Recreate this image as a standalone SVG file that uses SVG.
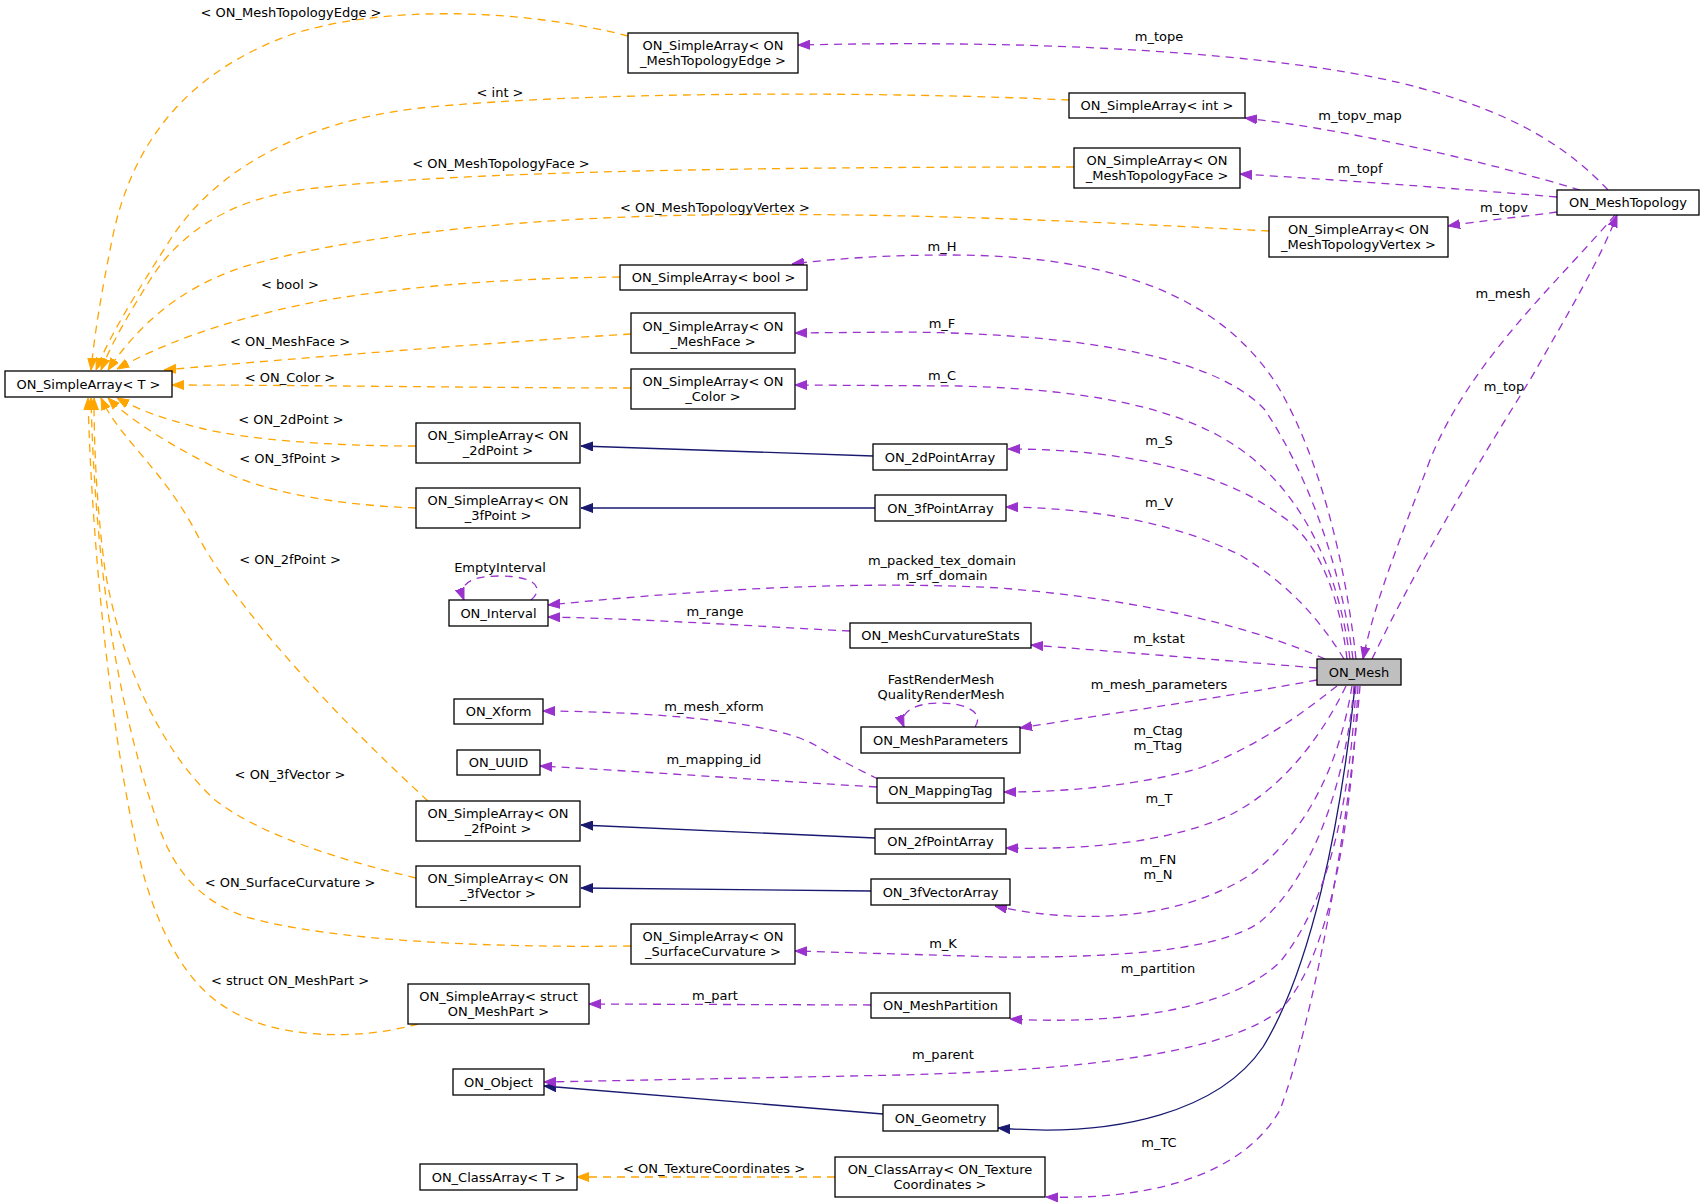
<svg xmlns="http://www.w3.org/2000/svg" width="1705" height="1204" viewBox="0 0 1705 1204">
<style>
.node rect{fill:#ffffff;stroke:#000000;stroke-width:1.3}
.main rect{fill:#bfbfbf}
text{font-family:"DejaVu Sans","Liberation Sans",sans-serif;font-size:13px;text-anchor:middle;fill:#000000}
.ep{fill:none;stroke:#9a32cd;stroke-width:1.3;stroke-dasharray:8,6}
.eo{fill:none;stroke:#ffa500;stroke-width:1.3;stroke-dasharray:8,6}
.eb{fill:none;stroke:#191970;stroke-width:1.3}
</style>
<defs>
<marker id="ap" markerUnits="userSpaceOnUse" markerWidth="12" markerHeight="10" refX="12" refY="5" orient="auto" viewBox="0 0 12 10"><path d="M0,0.5 L12,5 L0,9.5 z" fill="#9a32cd" stroke="#9a32cd" stroke-width="1"/></marker>
<marker id="ao" markerUnits="userSpaceOnUse" markerWidth="12" markerHeight="10" refX="12" refY="5" orient="auto" viewBox="0 0 12 10"><path d="M0,0.5 L12,5 L0,9.5 z" fill="#ffa500" stroke="#ffa500" stroke-width="1"/></marker>
<marker id="ab" markerUnits="userSpaceOnUse" markerWidth="12" markerHeight="10" refX="12" refY="5" orient="auto" viewBox="0 0 12 10"><path d="M0,0.5 L12,5 L0,9.5 z" fill="#191970" stroke="#191970" stroke-width="1"/></marker>
</defs>
<rect x="0" y="0" width="1705" height="1204" fill="#ffffff"/>
<g id="connectors">
<g marker-end="url(#ao)">
<path class="eo" d="M628,36 C520,8 380,5 290,35 C180,75 130,150 112,240 C102,290 95,330 91,370"/>
<path class="eo" d="M1069,100 C900,92 600,90 420,108 C300,122 215,170 170,240 C135,295 110,335 96,370"/>
<path class="eo" d="M1074,167 C800,167 450,170 300,190 C220,202 175,240 150,280 C130,312 113,340 101,370"/>
<path class="eo" d="M1269,231 C1100,222 900,212 700,215 C500,218 330,240 240,268 C175,290 135,330 108,370"/>
<path class="eo" d="M620,277 C520,278 400,285 300,305 C220,322 160,345 117,369"/>
<path class="eo" d="M631,334 C500,342 300,358 164,370"/>
<path class="eo" d="M631,388 C500,388 300,385 172,385"/>
<path class="eo" d="M416,446 C330,446 250,440 200,428 C160,418 135,408 117,398"/>
<path class="eo" d="M416,508 C330,505 260,490 220,470 C170,445 130,420 108,398"/>
<path class="eo" d="M428,801 C340,720 245,620 200,540 C165,470 120,440 101,398"/>
<path class="eo" d="M416,878 C340,860 260,835 215,800 C160,750 120,660 105,570 C97,510 94,450 94,398"/>
<path class="eo" d="M631,946 C480,948 330,940 250,918 C200,903 175,870 160,830 C115,700 95,560 91,398"/>
<path class="eo" d="M418,1024 C360,1040 280,1040 230,1010 C185,985 160,930 145,880 C115,770 92,560 88,398"/>
<path class="eo" d="M835,1177 L577,1177"/>
</g>
<g marker-end="url(#ab)">
<path class="eb" d="M873,456 L581,446"/>
<path class="eb" d="M875,508 L581,508"/>
<path class="eb" d="M875,838 L581,825"/>
<path class="eb" d="M871,891 L581,888"/>
<path class="eb" d="M883,1114 L544,1086"/>
<path class="eb" d="M1355,686 C1340,830 1310,970 1263,1047 C1220,1110 1120,1138 998,1128"/>
</g>
<g marker-end="url(#ap)">
<path class="ep" d="M1608,190 C1570,150 1520,115 1420,88 C1320,60 1100,38 798,45"/>
<path class="ep" d="M1580,190 C1480,160 1350,130 1245,118"/>
<path class="ep" d="M1557,197 C1450,188 1340,180 1240,174"/>
<path class="ep" d="M1557,212 C1520,217 1480,221 1448,226"/>
<path class="ep" d="M1615,215 C1560,280 1470,360 1430,460 C1400,540 1375,600 1363,659"/>
<path class="ep" d="M1372,659 C1420,560 1480,460 1530,380 C1570,310 1600,260 1617,215"/>
<path class="ep" d="M1356,659 C1345,560 1320,460 1280,390 C1220,290 1100,255 950,255 C890,255 840,258 792,264"/>
<path class="ep" d="M1353,659 C1340,560 1305,470 1265,410 C1210,350 1050,333 900,332 L795,333"/>
<path class="ep" d="M1350,659 C1340,580 1310,510 1260,465 C1200,410 1100,390 960,386 L795,385"/>
<path class="ep" d="M1347,659 C1340,600 1320,540 1280,515 C1220,470 1120,449 1008,449"/>
<path class="ep" d="M1344,659 C1320,620 1290,585 1240,555 C1180,525 1100,508 1006,507"/>
<path class="ep" d="M1325,659 C1260,630 1150,600 1000,588 C850,580 700,590 548,605"/>
<path class="ep" d="M531,600 C545,588 535,576 500,576 C470,576 458,584 464,600"/>
<path class="ep" d="M850,631 C750,626 650,619 548,617"/>
<path class="ep" d="M1317,668 C1220,660 1120,652 1031,645"/>
<path class="ep" d="M1317,680 C1220,698 1120,712 1020,728"/>
<path class="ep" d="M975,727 C985,712 965,703 940,703 C915,703 898,712 904,727"/>
<path class="ep" d="M878,779 C860,770 835,758 815,745 C780,725 680,712 543,711"/>
<path class="ep" d="M877,787 C760,780 650,772 540,766"/>
<path class="ep" d="M1337,686 C1300,715 1260,745 1200,768 C1140,785 1070,792 1004,792"/>
<path class="ep" d="M1346,686 C1320,740 1280,790 1230,815 C1170,842 1090,850 1006,848"/>
<path class="ep" d="M1352,686 C1340,760 1310,830 1250,875 C1180,920 1080,925 995,906"/>
<path class="ep" d="M1354,686 C1345,790 1310,880 1260,922 C1220,950 1120,958 1000,957 L795,951"/>
<path class="ep" d="M1356,686 C1350,800 1330,900 1280,962 C1230,1010 1120,1025 1010,1019"/>
<path class="ep" d="M1358,686 C1352,820 1330,960 1280,1010 C1230,1050 1100,1070 900,1075 C750,1078 650,1080 544,1082"/>
<path class="ep" d="M1360,686 C1348,840 1310,1030 1280,1110 C1240,1180 1140,1200 1046,1197"/>
<path class="ep" d="M871,1005 L589,1004"/>
</g>
<g id="edge-labels">
<text x="291" y="16.5">&lt; ON_MeshTopologyEdge &gt;</text>
<text x="500" y="96.5">&lt; int &gt;</text>
<text x="501" y="167.5">&lt; ON_MeshTopologyFace &gt;</text>
<text x="715" y="211.5">&lt; ON_MeshTopologyVertex &gt;</text>
<text x="290" y="288.5">&lt; bool &gt;</text>
<text x="290" y="345.5">&lt; ON_MeshFace &gt;</text>
<text x="290" y="381.5">&lt; ON_Color &gt;</text>
<text x="291" y="423.5">&lt; ON_2dPoint &gt;</text>
<text x="290" y="462.5">&lt; ON_3fPoint &gt;</text>
<text x="290" y="563.5">&lt; ON_2fPoint &gt;</text>
<text x="290" y="778.5">&lt; ON_3fVector &gt;</text>
<text x="290" y="886.5">&lt; ON_SurfaceCurvature &gt;</text>
<text x="290" y="984.5">&lt; struct ON_MeshPart &gt;</text>
<text x="714" y="1172.5">&lt; ON_TextureCoordinates &gt;</text>
<text x="1159" y="41">m_tope</text>
<text x="1360" y="120">m_topv_map</text>
<text x="1360" y="173">m_topf</text>
<text x="1504" y="212">m_topv</text>
<text x="1503" y="298">m_mesh</text>
<text x="1504" y="391">m_top</text>
<text x="942" y="251">m_H</text>
<text x="942" y="328">m_F</text>
<text x="942" y="380">m_C</text>
<text x="1159" y="445">m_S</text>
<text x="1159" y="507">m_V</text>
<text x="942" y="565">m_packed_tex_domain</text>
<text x="942" y="580">m_srf_domain</text>
<text x="500" y="572">EmptyInterval</text>
<text x="715" y="616">m_range</text>
<text x="1159" y="643">m_kstat</text>
<text x="1159" y="689">m_mesh_parameters</text>
<text x="941" y="683.5">FastRenderMesh</text>
<text x="941" y="698.5">QualityRenderMesh</text>
<text x="714" y="711">m_mesh_xform</text>
<text x="714" y="764">m_mapping_id</text>
<text x="1158" y="735">m_Ctag</text>
<text x="1158" y="750">m_Ttag</text>
<text x="1159" y="803">m_T</text>
<text x="1158" y="864">m_FN</text>
<text x="1158" y="879">m_N</text>
<text x="943" y="948">m_K</text>
<text x="1158" y="973">m_partition</text>
<text x="943" y="1059">m_parent</text>
<text x="1159" y="1147">m_TC</text>
<text x="715" y="1000">m_part</text>
</g>
</g>
<g id="n_T" class="node"><rect x="5" y="371" width="167" height="26"/><text x="88.5" y="388.5">ON_SimpleArray&lt; T &gt;</text></g>
<g id="n_MTEdge" class="node"><rect x="628" y="33" width="170" height="40"/><text x="713" y="50">ON_SimpleArray&lt; ON</text><text x="713" y="65">_MeshTopologyEdge &gt;</text></g>
<g id="n_int" class="node"><rect x="1069" y="93" width="176" height="25"/><text x="1157" y="110">ON_SimpleArray&lt; int &gt;</text></g>
<g id="n_MTFace" class="node"><rect x="1074" y="148" width="166" height="40"/><text x="1157" y="165">ON_SimpleArray&lt; ON</text><text x="1157" y="180">_MeshTopologyFace &gt;</text></g>
<g id="n_MeshTopology" class="node"><rect x="1557" y="190" width="142" height="25"/><text x="1628" y="207">ON_MeshTopology</text></g>
<g id="n_MTVertex" class="node"><rect x="1269" y="217" width="179" height="40"/><text x="1358.5" y="234">ON_SimpleArray&lt; ON</text><text x="1358.5" y="249">_MeshTopologyVertex &gt;</text></g>
<g id="n_bool" class="node"><rect x="620" y="265" width="187" height="25"/><text x="713.5" y="282">ON_SimpleArray&lt; bool &gt;</text></g>
<g id="n_MeshFace" class="node"><rect x="631" y="313" width="164" height="40"/><text x="713" y="330.5">ON_SimpleArray&lt; ON</text><text x="713" y="345.5">_MeshFace &gt;</text></g>
<g id="n_Color" class="node"><rect x="631" y="369" width="164" height="40"/><text x="713" y="386">ON_SimpleArray&lt; ON</text><text x="713" y="401">_Color &gt;</text></g>
<g id="n_2dPoint" class="node"><rect x="416" y="423" width="164" height="40"/><text x="498" y="440">ON_SimpleArray&lt; ON</text><text x="498" y="455">_2dPoint &gt;</text></g>
<g id="n_3fPoint" class="node"><rect x="416" y="488" width="164" height="40"/><text x="498" y="505">ON_SimpleArray&lt; ON</text><text x="498" y="520">_3fPoint &gt;</text></g>
<g id="n_2dPointArray" class="node"><rect x="873" y="444" width="134" height="26"/><text x="940" y="461.5">ON_2dPointArray</text></g>
<g id="n_3fPointArray" class="node"><rect x="875" y="495" width="131" height="26"/><text x="940.5" y="512.5">ON_3fPointArray</text></g>
<g id="n_Interval" class="node"><rect x="449" y="600" width="99" height="26"/><text x="498.5" y="617.5">ON_Interval</text></g>
<g id="n_MeshCurvatureStats" class="node"><rect x="850" y="623" width="181" height="25"/><text x="940.5" y="640">ON_MeshCurvatureStats</text></g>
<g id="n_Mesh" class="node main"><rect x="1317" y="659" width="84" height="26"/><text x="1359" y="676.5">ON_Mesh</text></g>
<g id="n_Xform" class="node"><rect x="454" y="699" width="89" height="25"/><text x="498.5" y="716">ON_Xform</text></g>
<g id="n_MeshParameters" class="node"><rect x="861" y="727" width="159" height="26"/><text x="940.5" y="744.5">ON_MeshParameters</text></g>
<g id="n_UUID" class="node"><rect x="457" y="750" width="83" height="25"/><text x="498.5" y="767">ON_UUID</text></g>
<g id="n_MappingTag" class="node"><rect x="877" y="778" width="127" height="25"/><text x="940.5" y="795">ON_MappingTag</text></g>
<g id="n_2fPoint" class="node"><rect x="416" y="801" width="164" height="40"/><text x="498" y="818">ON_SimpleArray&lt; ON</text><text x="498" y="833">_2fPoint &gt;</text></g>
<g id="n_2fPointArray" class="node"><rect x="875" y="829" width="131" height="25"/><text x="940.5" y="846">ON_2fPointArray</text></g>
<g id="n_3fVector" class="node"><rect x="416" y="866" width="164" height="41"/><text x="498" y="883">ON_SimpleArray&lt; ON</text><text x="498" y="898">_3fVector &gt;</text></g>
<g id="n_3fVectorArray" class="node"><rect x="871" y="879" width="139" height="26"/><text x="940.5" y="896.5">ON_3fVectorArray</text></g>
<g id="n_SurfaceCurvature" class="node"><rect x="631" y="924" width="164" height="40"/><text x="713" y="941">ON_SimpleArray&lt; ON</text><text x="713" y="956">_SurfaceCurvature &gt;</text></g>
<g id="n_MeshPart" class="node"><rect x="408" y="984" width="181" height="40"/><text x="498.5" y="1001">ON_SimpleArray&lt; struct</text><text x="498.5" y="1016">ON_MeshPart &gt;</text></g>
<g id="n_MeshPartition" class="node"><rect x="871" y="993" width="139" height="25"/><text x="940.5" y="1010">ON_MeshPartition</text></g>
<g id="n_Object" class="node"><rect x="453" y="1069" width="91" height="26"/><text x="498.5" y="1086.5">ON_Object</text></g>
<g id="n_Geometry" class="node"><rect x="883" y="1105" width="115" height="26"/><text x="940.5" y="1122.5">ON_Geometry</text></g>
<g id="n_ClassArrayT" class="node"><rect x="420" y="1164" width="157" height="26"/><text x="498.5" y="1181.5">ON_ClassArray&lt; T &gt;</text></g>
<g id="n_ClassArrayTC" class="node"><rect x="835" y="1157" width="210" height="40"/><text x="940" y="1174">ON_ClassArray&lt; ON_Texture</text><text x="940" y="1189">Coordinates &gt;</text></g>
</svg>
